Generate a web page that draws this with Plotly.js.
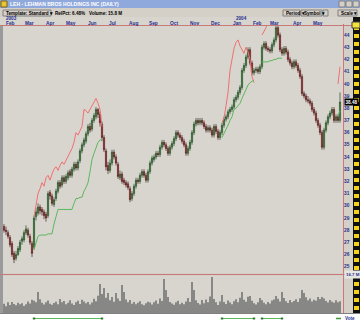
<!DOCTYPE html>
<html><head><meta charset="utf-8">
<script src="https://cdn.plot.ly/plotly-3.0.1.min.js"></script>
<style>html,body{margin:0;padding:0;background:#d4d0c8;overflow:hidden}#chart{width:360px;height:323px}</style>
</head><body><div id="chart"></div>
<script>
// ---- data ----
const openP=[28.3,28.0,27.8,27.4,26.9,26.1,25.7,26.0,26.4,27.1,27.2,27.8,28.0,27.5,26.9,26.6,29.1,29.4,29.9,29.7,29.5,29.3,29.2,31.1,30.8,30.1,30.6,31.2,31.9,31.7,32.3,32.0,32.3,32.8,32.5,33.0,33.4,33.1,33.7,34.5,35.0,35.3,35.9,36.5,36.3,37.0,37.3,37.9,37.5,36.7,35.6,34.5,33.3,32.9,33.5,34.4,34.0,33.4,32.3,32.6,32.1,31.9,31.8,31.4,30.6,31.0,31.6,32.1,32.0,32.5,32.8,32.5,32.1,32.8,33.5,33.8,34.0,34.3,34.2,34.8,35.2,35.0,34.7,34.3,34.8,35.1,35.5,36.0,35.8,35.6,35.3,35.0,34.3,34.7,35.2,36.0,36.7,37.0,36.8,37.0,36.8,36.5,36.2,36.4,36.2,35.8,36.5,36.1,35.6,36.0,36.6,37.1,37.3,37.7,37.9,38.1,38.7,38.9,39.3,39.7,41.1,41.5,42.2,42.8,41.7,40.9,41.1,41.2,41.0,41.4,43.0,43.3,42.9,42.8,42.7,43.2,43.6,44.6,44.0,42.8,42.5,42.9,42.6,42.0,41.7,41.4,41.8,41.5,41.1,40.6,39.2,39.0,38.7,38.6,38.4,37.9,37.6,37.0,36.6,36.0,34.8,36.2,36.8,37.3,37.6,37.9,37.0,37.3,37.0];
const highP=[28.5,28.3,28.0,27.6,27.1,26.3,26.3,26.7,27.2,27.5,28.0,28.4,28.2,27.7,27.1,29.2,29.8,30.2,30.1,29.9,29.7,29.5,31.2,31.3,31.0,30.7,31.4,32.1,32.1,32.5,32.5,32.6,32.9,33.0,33.2,33.6,33.6,33.8,34.7,35.2,35.6,36.1,36.7,36.8,37.2,37.6,38.1,38.0,37.7,36.9,35.8,34.7,33.6,33.8,34.6,34.6,34.2,33.6,32.9,32.8,32.3,32.1,32.0,31.6,31.2,31.8,32.3,32.3,32.7,33.0,33.0,32.7,33.0,33.7,34.1,34.2,34.5,34.5,35.0,35.4,35.4,35.2,34.9,35.0,35.3,35.7,36.2,36.2,36.0,35.8,35.5,35.2,34.9,35.4,36.2,36.9,37.2,37.2,37.2,37.2,37.0,36.7,36.6,36.6,36.4,36.7,36.7,36.3,36.2,36.8,37.3,37.5,37.9,38.1,38.3,38.9,39.1,39.5,39.9,41.3,41.7,42.4,43.0,43.0,41.9,41.3,41.4,41.4,41.6,43.2,43.5,43.5,43.1,43.0,43.4,43.8,44.8,44.8,44.2,43.0,43.1,43.1,42.8,42.2,41.9,42.0,42.0,41.7,41.3,40.8,39.4,39.2,39.0,38.8,38.6,38.1,37.8,37.2,36.8,36.2,36.4,37.0,37.5,37.8,38.1,38.1,37.5,37.5,39.3];
const lowP=[27.8,27.6,27.3,26.6,25.8,25.3,25.5,25.9,26.2,26.8,27.0,27.6,27.4,26.8,25.8,26.4,28.8,29.2,29.3,29.2,28.9,28.7,29.0,30.5,30.0,29.9,30.4,31.0,31.4,31.5,31.8,31.8,32.1,32.3,32.3,32.8,32.9,32.9,33.5,34.3,34.8,35.1,35.7,36.0,36.1,36.8,37.1,37.2,36.5,35.3,34.4,32.9,32.6,32.7,33.3,33.8,33.3,32.2,32.1,31.8,31.7,31.5,31.3,30.3,30.4,30.8,31.4,31.8,31.8,32.3,32.3,31.9,31.9,32.6,33.3,33.6,33.8,34.0,34.0,34.6,34.8,34.5,34.1,34.1,34.6,34.9,35.3,35.6,35.4,35.1,34.8,34.1,34.1,34.5,35.0,35.8,36.5,36.6,36.6,36.6,36.3,36.0,36.0,36.0,35.6,35.6,35.9,35.4,35.4,35.8,36.4,36.9,37.1,37.5,37.7,37.9,38.5,38.7,39.1,39.5,40.9,41.3,42.0,41.5,40.7,40.7,40.9,40.8,40.8,41.2,42.8,42.7,42.6,42.5,42.5,43.0,43.4,43.8,42.6,42.3,42.3,42.4,41.8,41.5,41.2,41.2,41.3,40.9,40.4,39.0,38.8,38.5,38.4,38.2,37.7,37.4,36.8,36.4,35.8,34.6,34.6,36.0,36.6,37.1,37.4,36.8,36.8,36.8,36.8];
const closeP=[28.0,27.9,27.5,26.8,26.0,25.6,26.0,26.5,27.0,27.3,27.8,28.1,27.6,27.0,26.1,29.0,29.5,29.9,29.6,29.5,29.2,29.0,31.0,30.8,30.2,30.5,31.2,31.9,31.6,32.3,32.0,32.4,32.7,32.5,33.0,33.4,33.1,33.6,34.5,35.0,35.4,35.9,36.5,36.2,37.0,37.4,37.9,37.5,36.8,35.6,34.6,33.2,32.9,33.5,34.4,34.0,33.5,32.4,32.6,32.0,31.9,31.7,31.5,30.5,31.0,31.6,32.1,32.0,32.5,32.8,32.5,32.1,32.8,33.5,33.9,34.0,34.3,34.2,34.8,35.2,35.0,34.7,34.3,34.8,35.1,35.5,36.0,35.8,35.6,35.3,35.0,34.3,34.7,35.2,36.0,36.7,37.0,36.8,37.0,36.8,36.5,36.2,36.4,36.2,35.8,36.5,36.1,35.6,36.0,36.6,37.1,37.3,37.7,37.9,38.1,38.7,38.9,39.3,39.7,41.1,41.5,42.2,42.8,41.7,40.9,41.1,41.2,41.0,41.4,43.0,43.3,42.9,42.8,42.7,43.2,43.6,44.6,44.0,42.8,42.5,42.9,42.6,42.0,41.7,41.4,41.8,41.5,41.1,40.6,39.2,39.0,38.7,38.6,38.4,37.9,37.6,37.0,36.6,36.0,34.8,36.2,36.8,37.3,37.6,37.9,37.0,37.3,37.0,38.5];
const volumeM=[4.2,3.1,4.8,3.6,5.0,4.1,3.5,4.6,3.9,4.4,3.2,4.0,5.2,4.3,6.0,5.5,4.8,9.5,6.2,4.6,3.8,4.9,5.6,4.2,3.7,4.5,5.1,4.0,6.3,4.8,5.4,3.9,4.6,5.8,4.3,3.6,4.9,5.5,4.1,6.0,5.2,4.4,5.0,3.8,4.7,6.4,5.3,7.8,13.1,8.6,11.3,6.9,9.0,5.8,7.2,5.1,9.0,6.6,5.4,12.6,9.5,6.1,4.8,5.9,4.2,5.0,3.9,4.6,5.3,4.0,3.5,4.4,5.1,4.7,3.8,4.9,5.6,4.2,6.5,5.4,15.3,10.4,7.2,5.0,4.3,3.7,4.8,5.5,4.0,4.6,3.9,5.2,6.8,5.0,14.0,10.4,5.7,4.5,3.8,5.9,4.4,6.1,4.9,7.5,16.2,6.3,4.8,3.6,5.2,8.1,5.0,4.1,5.6,4.7,3.9,5.3,6.2,4.8,6.9,9.5,6.0,5.1,7.3,7.7,5.5,4.4,3.8,4.9,6.8,5.7,4.6,3.9,5.0,4.3,5.6,6.1,7.7,6.4,5.2,9.5,6.8,5.3,4.5,5.9,4.8,5.4,6.2,5.0,6.7,10.4,9.0,7.1,5.8,6.5,5.2,6.0,5.5,7.2,6.3,7.2,6.6,5.4,4.7,5.9,5.1,4.6,5.8,4.9,5.3];
// trailing stop bands (start bar index + values)
const upperStart=[15,109,129,167];
const upper1=[29.1,30.2,31.0,31.4,31.9,31.6,32.3,32.5,32.1,32.6,33.0,33.2,32.9,33.3,33.6,33.4,33.7,34.1,34.4,34.7,35.2,36.0,35.8,36.2,36.5,37.9,37.8,37.6,37.9,38.1,38.5,38.8,38.4,37.9,36.5];
const upper2=[36.8,37.2,38.2,39.3,41.1,42.2,42.9,43.4,43.6,43.1,42.8,42.5,43.0,42.6,42.0,40.6,40.1];
const upper3=[44.0,44.3,44.6,45.2];
const upper4=[40.0,41.4];
const lowerStart=[15,109,129,167];
const lower1=[26.4,27.0,27.5,27.6,27.6,27.6,27.6,27.7,27.7,27.7,28.5,29.2,29.7,29.7,29.7,29.7,29.7,29.7,29.7,29.7,30.2,30.6,30.6,30.7,30.7,31.2,31.5,31.9,32.8,33.8,34.3,34.8,35.2,35.4,35.4];
const lower2=[35.6,35.9,36.2,36.6,37.0,37.3,37.9,38.0,38.2,38.4,38.8,39.2,39.5,39.9,40.1,40.2,40.3];
const lower3=[41.8,41.8,41.8,41.8,41.9,41.9,42.0,42.0,42.1,42.1,42.1];
const lower4=[37.4,37.8];
const signalSpans=[[15,49],[109,125],[129,139]];
const monthLabels=['Feb','Mar','Apr','May','Jun','Jul','Aug','Sep','Oct','Nov','Dec','Jan','Feb','Mar','Apr','May'];
const monthAt=[3,12.5,23,33.5,44,54,64.5,74.5,85,95,105.5,116.5,126.5,135,146.5,157];
const yearLabels=['2003','2004'];
const yearAt=[0,115];
const priceTicks=[25,26,27,28,29,30,31,32,33,34,35,36,37,38,39,40,41,42,43,44];
const lastPrice='38.48';
const volScaleLabel='16.7 M';

// ---- drawing ----
const W=360,H=323;
const idx=closeP.map((_,i)=>i);
const seg=(start,vals)=>vals.map((_,k)=>start+k);
const FONT='Liberation Sans, Arial, sans-serif';
const BLUE='#1f2f8f';
const RED='#c87a7a';

const traces=[
 {type:'candlestick',x:idx,open:openP,high:highP,low:lowP,close:closeP,xaxis:'x',yaxis:'y',
  increasing:{line:{color:'#2a4a2a',width:0.7},fillcolor:'#2fa02f'},
  decreasing:{line:{color:'#4a2020',width:0.7},fillcolor:'#e02828'},whiskerwidth:0,hoverinfo:'skip',showlegend:false},
 {type:'bar',x:idx,y:volumeM,xaxis:'x2',yaxis:'y2',marker:{color:'#6c6c6c',line:{width:0}},width:0.75,hoverinfo:'skip',showlegend:false}
];
[[upperStart[0],upper1],[upperStart[1],upper2],[upperStart[2],upper3],[upperStart[3],upper4]].forEach(([s,v])=>{
 traces.push({type:'scatter',mode:'lines',x:seg(s,v),y:v,xaxis:'x',yaxis:'y',line:{color:'#f07070',width:1},hoverinfo:'skip',showlegend:false});
});
[[lowerStart[0],lower1],[lowerStart[1],lower2],[lowerStart[2],lower3],[lowerStart[3],lower4]].forEach(([s,v])=>{
 traces.push({type:'scatter',mode:'lines',x:seg(s,v),y:v,xaxis:'x',yaxis:'y',line:{color:'#5cb85c',width:1},hoverinfo:'skip',showlegend:false});
});

const shapes=[];
function R(x0,y0,x1,y1,fill,lc,lw,layer){shapes.push({type:'rect',xref:'paper',yref:'paper',x0:x0/W,x1:x1/W,y0:1-y1/H,y1:1-y0/H,fillcolor:fill,line:{color:lc||fill,width:lc?(lw||1):0},layer:layer||'above'});}
function L(x0,y0,x1,y1,c,w){shapes.push({type:'line',xref:'paper',yref:'paper',x0:x0/W,x1:x1/W,y0:1-y0/H,y1:1-y1/H,line:{color:c,width:w||1},layer:'above'});}
const ann=[];
function T(text,x,y,size,color,opt){ann.push(Object.assign({text:text,xref:'paper',yref:'paper',x:x/W,y:1-y/H,xanchor:'left',yanchor:'middle',showarrow:false,font:{family:FONT,size:size,color:color}},opt||{}));}

// title bar
R(0,0,360,8,'#8fa9dc');
R(1,1,7,7,'#e8c830','#806010');
T('<b>LEH - LEHMAN BROS HOLDINGS INC (DAILY)</b>',8,4.3,5,'#ffffff');
R(339,1,345,7,'#d4d0c8','#808080');R(346,1,352,7,'#d4d0c8','#808080');R(353,1,359,7,'#d4d0c8','#808080');
// toolbar
R(0,8,360,17,'#d4d0c8');
R(3,10,51,16,'#d4d0c8','#808080');
T('<b>Template: Standard ▾</b>',4,13,4.6,'#000000');
T('<b>RelPct: 6.48%   Volume: 15.8 M</b>',53,13,4.6,'#000000');
R(283,10,300,16,'#d4d0c8','#808080');T('<b>Period ▾</b>',284,13,4.6,'#000000');
R(301,10,322,16,'#d4d0c8','#808080');T('<b>Symbol ▾</b>',302,13,4.6,'#000000');
R(323,10,328,16,'#d4d0c8','#808080');
R(338,10,357,16,'#d4d0c8','#808080');T('<b>Scale ▾</b>',339,13,4.6,'#000000');
// date header
R(0,17,353,25,'#d8d5cf');
yearLabels.forEach((t,k)=>ann.push({text:'<b>'+t+'</b>',xref:'x',yref:'paper',x:yearAt[k],y:1-18.6/H,xanchor:'left',yanchor:'middle',showarrow:false,font:{family:FONT,size:4.6,color:BLUE}}));
monthLabels.forEach((t,k)=>ann.push({text:'<b>'+t+'</b>',xref:'x',yref:'paper',x:monthAt[k],y:1-23.2/H,xanchor:'center',yanchor:'middle',showarrow:false,font:{family:FONT,size:4.8,color:BLUE}}));
L(0,25.5,352,25.5,RED,1);
// left border
R(0,26,3,313,'#9a9a9a');
// pane separator
L(0,274.5,352,274.5,RED,1);
// right axis border
L(343.5,24,343.5,313,RED,1);
// right yellow/black strip
R(353,17,360,313,'#101010');
for(let y=26;y<313;y+=8){R(354,y,359,y+4,'#f2d21a');}
R(352,22,360,28,'#f2e23a','#404040');
// bottom strip
L(0,313.5,360,313.5,'#808080',1);
R(0,314,360,323,'#ffffff');
T('<b>Vote</b>',343,318.5,4.6,BLUE);
L(336,318.5,341,318.5,'#3a9a3a',1.5);
signalSpans.forEach(([a,b])=>{
 shapes.push({type:'line',xref:'x',yref:'paper',x0:a,x1:b,y0:1-318.5/H,y1:1-318.5/H,line:{color:'#5cb85c',width:1},layer:'above'});
 shapes.push({type:'rect',xref:'x',yref:'paper',x0:a-0.6,x1:a+0.6,y0:1-319.5/H,y1:1-317.5/H,fillcolor:'#2e7a2e',line:{width:0},layer:'above'});
 shapes.push({type:'rect',xref:'x',yref:'paper',x0:b-0.6,x1:b+0.6,y0:1-319.5/H,y1:1-317.5/H,fillcolor:'#2e7a2e',line:{width:0},layer:'above'});
});
// last price box and volume scale label
ann.push({text:'<b>'+lastPrice+'</b>',xref:'paper',yref:'y',x:344/W,y:closeP[closeP.length-1],xanchor:'left',yanchor:'middle',showarrow:false,bgcolor:'#000000',font:{family:FONT,size:4.6,color:'#ffffff'},borderpad:0.5});
T('<b>'+volScaleLabel+'</b>',344,274.5,4.4,BLUE,{bgcolor:'#e8e6e2'});

const layout={
 width:W,height:H,margin:{l:0,r:0,t:0,b:0},
 paper_bgcolor:'#d4d0c8',plot_bgcolor:'#d8d5cf',
 showlegend:false,hovermode:false,boxgap:0.15,
 xaxis:{domain:[3/W,343/W],range:[-0.5,169.5],anchor:'y',showticklabels:false,ticks:'',showgrid:false,zeroline:false,showline:false,rangeslider:{visible:false},fixedrange:true},
 xaxis2:{domain:[3/W,343/W],range:[-0.5,169.5],anchor:'y2',showticklabels:false,ticks:'',showgrid:false,zeroline:false,showline:false,fixedrange:true},
 yaxis:{domain:[(H-273)/H,(H-26)/H],range:[24.49,44.74],side:'right',anchor:'x',tickmode:'array',tickvals:priceTicks,
  tickfont:{family:FONT,size:4.8,color:BLUE,weight:'bold'},ticks:'',showgrid:false,zeroline:false,showline:false,fixedrange:true},
 yaxis2:{domain:[(H-313)/H,(H-276)/H],range:[0,16.7],anchor:'x2',showticklabels:false,ticks:'',showgrid:false,zeroline:false,showline:false,fixedrange:true},
 shapes:shapes,annotations:ann
};
Plotly.newPlot('chart',traces,layout,{staticPlot:true,displayModeBar:false});
</script></body></html>
